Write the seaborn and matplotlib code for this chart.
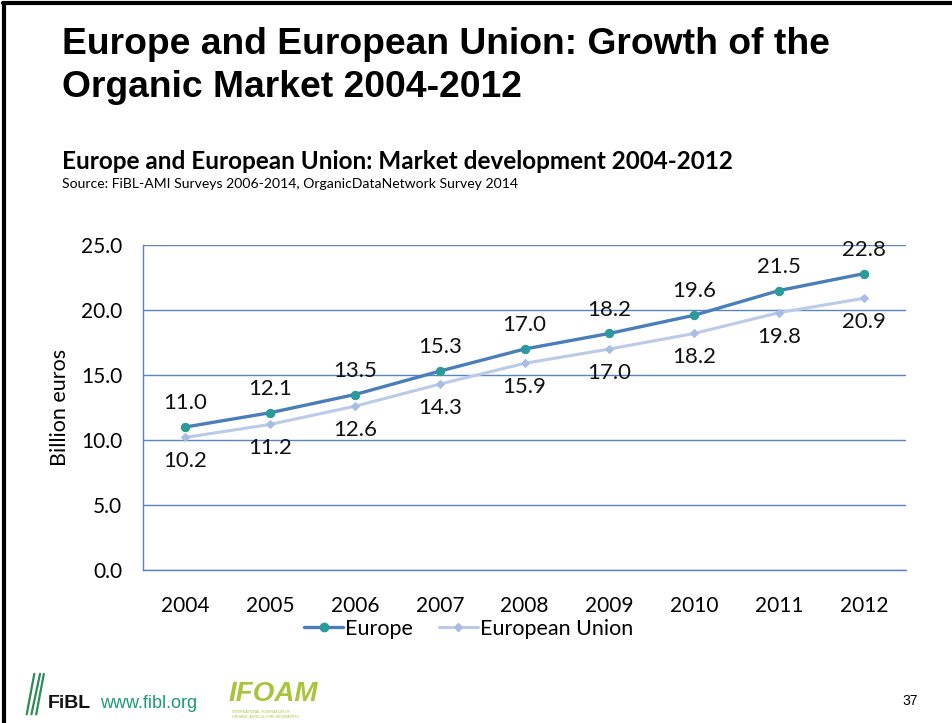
import matplotlib
matplotlib.use("Agg")
import matplotlib.pyplot as plt
import seaborn as sns
import pandas as pd
from matplotlib.lines import Line2D

# data
years = ["2004", "2005", "2006", "2007", "2008", "2009", "2010", "2011", "2012"]
europe = [11.0, 12.1, 13.5, 15.3, 17.0, 18.2, 19.6, 21.5, 22.8]
eu = [10.2, 11.2, 12.6, 14.3, 15.9, 17.0, 18.2, 19.8, 20.9]
y_ticks = [0, 5, 10, 15, 20, 25]

sns.set_theme(style="white")
plt.rcParams["font.family"] = ["Lato", "DejaVu Sans"]
plt.rcParams["text.color"] = "black"
plt.rcParams["axes.labelcolor"] = "black"
plt.rcParams["xtick.labelcolor"] = "black"
plt.rcParams["ytick.labelcolor"] = "black"

df = pd.DataFrame({"pos": range(len(years)), "Europe": europe, "European Union": eu})

fig = plt.figure(figsize=(9.53, 7.23), dpi=100)
ax = fig.add_axes([0.150, 0.2116, 0.801, 0.4495])

grid_col = "#5B84C4"
eu_col = "#BACAE8"
eur_col = "#4A7EBB"

sns.lineplot(data=df, x="pos", y="European Union", ax=ax, color=eu_col, lw=2.2,
             marker="D", markersize=4, markerfacecolor="#A9BDE3", markeredgecolor="#A9BDE3", zorder=3)
sns.lineplot(data=df, x="pos", y="Europe", ax=ax, color=eur_col, lw=2.4,
             marker="o", markersize=6, markerfacecolor="#2A9A9A", markeredgecolor="#2A9A9A", zorder=4)

for i, v in enumerate(europe):
    ax.annotate(f"{v:.1f}", (i, v), xytext=(0, 10), textcoords="offset points",
                ha="center", va="bottom", fontsize=16, color="#111111")
for i, v in enumerate(eu):
    ax.annotate(f"{v:.1f}", (i, v), xytext=(0, -10), textcoords="offset points",
                ha="center", va="top", fontsize=16, color="#111111")

ax.set_xlim(-0.5, len(years) - 0.5)
ax.set_ylim(0, 25)
ax.set_yticks(y_ticks)
ax.set_yticklabels([f"{t:.1f}" for t in y_ticks], fontsize=15)
ax.set_xticks(range(len(years)))
ax.set_xticklabels(years, fontsize=15)
ax.set_xticks([i - 0.5 for i in range(len(years) + 1)], minor=True)
ax.tick_params(axis="x", which="major", length=0, pad=19)
ax.tick_params(axis="x", which="minor", length=6, width=1, color=grid_col, direction="out")
ax.tick_params(axis="y", length=6, width=1, color=grid_col, direction="out", pad=9)
ax.set_xlabel("")
ax.set_ylabel("Billion euros", fontsize=15.5, labelpad=8)
ax.grid(axis="y", color=grid_col, lw=1)
ax.set_axisbelow(True)
for s in ["top", "right"]:
    ax.spines[s].set_visible(False)
for s in ["left", "bottom"]:
    ax.spines[s].set_color(grid_col)
    ax.spines[s].set_linewidth(1)

handles = [
    Line2D([], [], color=eur_col, lw=2.4, marker="o", markersize=6,
           markerfacecolor="#2A9A9A", markeredgecolor="#2A9A9A"),
    Line2D([], [], color=eu_col, lw=2.2, marker="D", markersize=4,
           markerfacecolor="#A9BDE3", markeredgecolor="#A9BDE3"),
]
fig.legend(handles, ["Europe", "European Union"], loc="center", bbox_to_anchor=(0.492, 0.13),
           ncol=2, frameon=False, fontsize=15.5, handlelength=1.8, handletextpad=0.1,
           columnspacing=1.2)

# slide texts
fig.text(0.065, 0.962, "Europe and European Union: Growth of the\nOrganic Market 2004-2012",
         fontsize=26.8, fontweight="bold", family="Liberation Sans", va="top", ha="left",
         linespacing=1.27)
fig.text(0.065, 0.776, "Europe and European Union: Market development 2004-2012",
         fontsize=17.5, fontweight="bold", va="center", ha="left")
fig.text(0.065, 0.746, "Source: FiBL-AMI Surveys 2006-2014, OrganicDataNetwork Survey 2014",
         fontsize=10.1, va="center", ha="left")

# footer logos as text
for x0, x1 in [(0.028, 0.036), (0.033, 0.042), (0.038, 0.046)]:
    fig.add_artist(Line2D([x0, x1], [0.012, 0.068], color="#2E8B57", lw=1.6,
                          transform=fig.transFigure))
fig.text(0.050, 0.027, "FiBL", fontsize=14, fontweight="bold", family="Liberation Sans",
         color="#111111", va="center", ha="left")
fig.text(0.105, 0.027, "www.fibl.org", fontsize=13, family="Liberation Sans",
         color="#1A9A7A", va="center", ha="left")
fig.text(0.240, 0.040, "IFOAM", fontsize=20, fontweight="bold", style="italic",
         family="Liberation Sans", color="#A8C43A", va="center", ha="left")
fig.text(0.243, 0.012, "INTERNATIONAL FEDERATION OF\nORGANIC AGRICULTURE MOVEMENTS", fontsize=2.6,
         family="Liberation Sans", color="#A8C43A", va="center", ha="left")
fig.text(0.955, 0.030, "37", fontsize=10, family="Liberation Sans", va="center", ha="center")

# slide border (top and left)
fig.add_artist(Line2D([0.003, 1.0], [0.996, 0.996], color="black", lw=3, transform=fig.transFigure))
fig.add_artist(Line2D([0.004, 0.004], [0.0, 0.996], color="black", lw=3, transform=fig.transFigure))

fig.savefig("out.png", dpi=100)
